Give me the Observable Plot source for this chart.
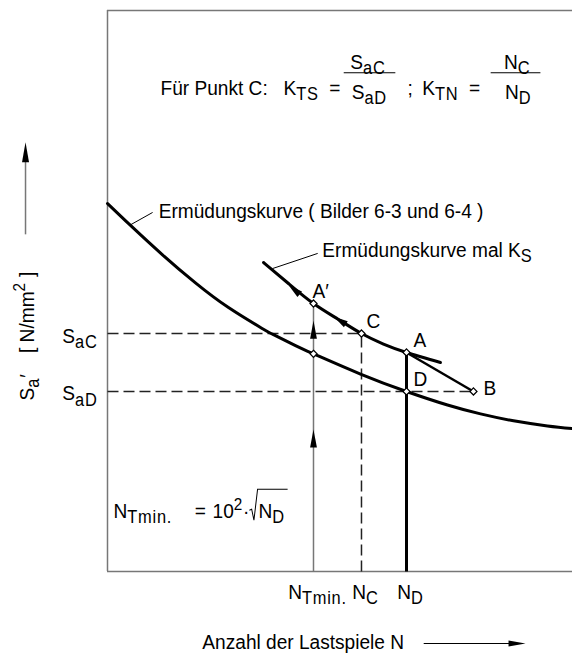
<!DOCTYPE html>
<html><head><meta charset="utf-8">
<script src="https://cdn.jsdelivr.net/npm/d3@7"></script>
<script src="https://cdn.jsdelivr.net/npm/@observablehq/plot@0.6"></script>
<style>
html,body{margin:0;padding:0;background:#fff;}
#chart svg{display:block;}
</style>
</head><body><div id="chart"></div>
<script>
// ---------- data (schematic units: x = lg N, y = stress amplitude) ----------
const lowerCurveX = [0, 0.495, 1.183, 1.892, 2.602, 3.333, 3.548, 4.043, 4.43, 5.441, 6.43, 7.312, 8.022, 8.731, 9.462, 10];
const lowerCurveY = [65.6, 61.69, 56.45, 51.44, 47.04, 43.28, 42.30, 40.25, 38.81, 35.20, 32.09, 29.68, 28.09, 26.86, 25.95, 25.47];
const upperCurveX = [3.355, 3.892, 4.43, 4.968, 5.462, 5.935, 6.43, 7.161];
const upperCurveY = [55.08, 51.34, 47.77, 44.92, 42.42, 40.55, 39.04, 37.25];
const pointNames = ["A′", "", "C", "A", "D", "B"];
const pointX = [4.43, 4.43, 5.462, 6.43, 6.43, 7.87];
const pointY = [47.77, 38.81, 42.42, 39.04, 32.09, 32.09];
const xTickValues = [4.43, 5.462, 6.43];
const xTickLabels = ["N_{Tmin.}", "N_{C}", "N_{D}"];
const yTickValues = [42.42, 32.09];
const yTickLabels = ["S_{aC}", "S_{aD}"];

const [N_Tmin, N_C, N_D] = xTickValues;
const [S_aC, S_aD] = yTickValues;
const S_aA = pointY[3], S_aA1 = pointY[0], N_B = pointX[5];

// ---------- style ----------
const FONT = '"Liberation Sans", Arial, Helvetica, sans-serif';
const FS = 21;          // font size
const SX = 0.91;        // horizontal condensing of all text
const GRAY = "#777";
const INK = "#000";
const DASH = "11,5";

const lower = lowerCurveX.map((v, i) => ({x: v, y: lowerCurveY[i]}));
const upper = upperCurveX.map((v, i) => ({x: v, y: upperCurveY[i]}));
const points = pointX.map((v, i) => ({x: v, y: pointY[i], name: pointNames[i]}));

const head = {draw(ctx, l, r) { ctx.moveTo(0, -l); ctx.lineTo(-r, 0); ctx.lineTo(r, 0); ctx.closePath(); }};

function txt(t, x, y, opts = {}) {
  return Plot.text([{x, y, t}], {x: "x", y: "y", text: "t", lineAnchor: "bottom", textAnchor: "start", fill: INK, fontSize: FS, ...opts});
}
function seg(x1, y1, x2, y2, opts) {
  return Plot.link([{x1, y1, x2, y2}], {x1: "x1", y1: "y1", x2: "x2", y2: "y2", ...opts});
}

const labelOffsets = {"A′": [-1, -6], "C": [5, -6], "A": [7, -5], "D": [7, -5], "B": [10, 4]};

const marks = [
  // frame
  Plot.ruleX([0], {stroke: GRAY, strokeWidth: 1.5}),
  Plot.ruleY([0, 100], {stroke: GRAY, strokeWidth: 1.5}),
  // dashed construction lines
  seg(0, S_aC, N_C, S_aC, {stroke: "#222", strokeWidth: 1.5, strokeDasharray: DASH}),
  seg(0, S_aD, N_B, S_aD, {stroke: "#222", strokeWidth: 1.5, strokeDasharray: DASH}),
  seg(N_C, 0, N_C, S_aC, {stroke: "#222", strokeWidth: 1.5, strokeDasharray: DASH}),
  // verticals
  seg(N_Tmin, 0, N_Tmin, S_aA1, {stroke: GRAY, strokeWidth: 1.5}),
  seg(N_D, 0, N_D, S_aA, {stroke: "black", strokeWidth: 3}),
  // A -> B
  seg(N_D, S_aA, N_B, S_aD, {stroke: "black", strokeWidth: 2.5}),
  // curves
  Plot.line(lower, {x: "x", y: "y", curve: "natural", stroke: "black", strokeWidth: 3}),
  Plot.line(upper, {x: "x", y: "y", curve: "natural", stroke: "black", strokeWidth: 3}),
  // arrowheads on curve and N_Tmin line
  Plot.vector([{x: 3.90, y: 51.0, r: -51}, {x: 4.87, y: 45.4, r: -58}], {x: "x", y: "y", rotate: "r", length: 14, r: 3.6, anchor: "end", shape: head, fill: "black", stroke: "none"}),
  Plot.vector([{x: N_Tmin, y: 44.7}, {x: N_Tmin, y: 25.3}], {x: "x", y: "y", length: 18, r: 3.4, anchor: "end", shape: head, fill: "black", stroke: "none"}),
  // leader lines
  seg(0.495, 61.8, 0.97, 64.0, {stroke: "black", strokeWidth: 1}),
  seg(3.55, 54.0, 4.52, 56.7, {stroke: "black", strokeWidth: 1}),
  // curve labels
  txt("Ermüdungskurve ( Bilder 6-3 und 6-4 )", 1.10, 63.1),
  txt("Ermüdungskurve mal K_{S}", 4.62, 56.0),
  // formula top
  txt("Für Punkt C:", 1.14, 85.0),
  txt("K_{TS}  =", 3.785, 85.0),
  seg(5.08, 88.9, 6.19, 88.9, {stroke: "black", strokeWidth: 1.2}),
  txt("S_{aC}", 5.60, 89.5, {textAnchor: "middle"}),
  txt("S_{aD}", 5.63, 84.2, {textAnchor: "middle"}),
  txt(";", 6.45, 85.0),
  txt("K_{TN}  =", 6.77, 85.0),
  seg(8.24, 88.9, 9.31, 88.9, {stroke: "black", strokeWidth: 1.2}),
  txt("N_{C}", 8.81, 89.5, {textAnchor: "middle"}),
  txt("N_{D}", 8.83, 84.2, {textAnchor: "middle"}),
  // N_Tmin formula
  txt("N_{Tmin.}", 0.13, 9.5),
  txt("=", 1.875, 9.5),
  txt("10^{2}·", 2.26, 9.5),
  txt("√N_{D}", 3.247, 9.5),
  // tick labels
  Plot.text(xTickValues.map((v, i) => ({x: v, t: xTickLabels[i]})), {x: "x", y: 0, text: "t", dx: 4, dy: 27, lineAnchor: "bottom", textAnchor: "middle", fill: INK, fontSize: FS}),
  Plot.text(yTickValues.map((v, i) => ({y: v, t: yTickLabels[i]})), {x: 0, y: "y", text: "t", dx: -10, dy: 9, lineAnchor: "bottom", textAnchor: "end", fill: INK, fontSize: FS}),
  // axis titles and arrows
  txt("S_{a}′    [ N/mm^{2} ]", -1.59, 30.5, {rotate: -90}),
  seg(-1.763, 60.1, -1.763, 73.0, {stroke: GRAY, strokeWidth: 1.5}),
  Plot.vector([{x: -1.763, y: 76.5}], {x: "x", y: "y", length: 20, r: 3.5, anchor: "end", shape: head, fill: "black", stroke: "none"}),
  txt("Anzahl der Lastspiele N", 2.04, -13.73),
  seg(6.80, -12.83, 8.70, -12.83, {stroke: "black", strokeWidth: 1.2}),
  Plot.vector([{x: 8.99, y: -12.83}], {x: "x", y: "y", rotate: 90, length: 17, r: 3, anchor: "end", shape: head, fill: "black", stroke: "none"}),
  // points
  Plot.dot(points, {x: "x", y: "y", symbol: "diamond2", r: 3.2, fill: "white", stroke: "black", strokeWidth: 1.2}),
  ...points.filter(p => p.name).map(p => Plot.text([p], {x: "x", y: "y", text: "name", dx: labelOffsets[p.name][0], dy: labelOffsets[p.name][1], lineAnchor: "bottom", textAnchor: "start", fill: INK, fontSize: FS}))
];

const chart = Plot.plot({
  width: 572, height: 654,
  marginLeft: 107, marginRight: 0, marginTop: 10, marginBottom: 83,
  x: {domain: [0, 10], axis: null},
  y: {domain: [0, 100], axis: null},
  style: {fontFamily: FONT, fontSize: FS + "px", background: "white", overflow: "visible"},
  marks
});
document.getElementById("chart").appendChild(chart);

// ---------- rich text: _{sub}, ^{sup}, leading √ drawn as radical ----------
const SVGNS = "http://www.w3.org/2000/svg";
function parseRich(str, base) {
  const segs = [];
  const stack = [{shift: 0, size: base, sub: false}];
  let buf = "";
  const flush = () => { if (buf) { segs.push({text: buf, ...stack[stack.length - 1]}); buf = ""; } };
  for (let i = 0; i < str.length; i++) {
    const c = str[i], n = str[i + 1];
    if ((c === "_" || c === "^") && n === "{") {
      flush();
      const s = stack[stack.length - 1];
      if (c === "_") stack.push({shift: s.shift + 0.24 * base, size: s.size * 0.86, sub: true});
      else stack.push({shift: s.shift - 0.4 * base, size: s.size * 0.8, sub: true});
      i++;
    } else if (c === "}" && stack.length > 1) { flush(); stack.pop(); }
    else buf += c;
  }
  flush();
  return segs;
}
chart.querySelectorAll("text").forEach(el => {
  let s = el.textContent;
  const radical = s.startsWith("√");
  if (radical) s = s.slice(1);
  if (/[_^]\{/.test(s)) {
    const base = parseFloat(getComputedStyle(el).fontSize) || FS;
    const segs = parseRich(s, base);
    el.textContent = "";
    let prev = 0;
    for (const g of segs) {
      const ts = document.createElementNS(SVGNS, "tspan");
      ts.setAttribute("dy", (g.shift - prev).toFixed(2));
      ts.setAttribute("font-size", g.size.toFixed(2));
      if (g.sub) ts.setAttribute("letter-spacing", "0.8");
      ts.textContent = g.text;
      prev = g.shift;
      el.appendChild(ts);
    }
  } else {
    el.textContent = s;
  }
  el.style.whiteSpace = "pre";
  const tr = el.getAttribute("transform") || "";
  el.setAttribute("transform", tr + ` scale(${SX},1)`);
  if (radical) {
    const w = el.getBBox().width;
    const p = document.createElementNS(SVGNS, "path");
    p.setAttribute("transform", el.getAttribute("transform"));
    p.setAttribute("d", `M-10,-8 L-7.5,-9 L-5,2 L-1,-29 L${w + 3},-29`);
    p.setAttribute("fill", "none");
    p.setAttribute("stroke", INK);
    p.setAttribute("stroke-width", "1.1");
    el.parentNode.appendChild(p);
  }
});
</script>
</body></html>
